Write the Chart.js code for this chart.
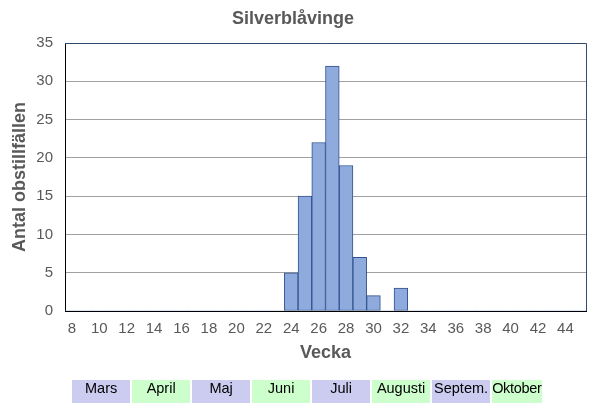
<!DOCTYPE html>
<html>
<head>
<meta charset="utf-8">
<script src="https://cdn.jsdelivr.net/npm/chart.js@4"></script>
<style>
  body { margin: 0; background: #fff; }
  #wrap { position: relative; width: 610px; height: 409px; }
  #months { position: absolute; left: 72px; top: 380px; display: flex; gap: 1.7px; }
  #months div { width: 58.3px; height: 23px; line-height: 24px; text-align: center;
    font: 14.5px "Liberation Sans", Arial, sans-serif; color: #000; white-space: nowrap; }
  #months div:last-child { width: 50px; letter-spacing: -0.3px; }
</style>
</head>
<body>
<div id="wrap">
  <canvas id="myChart" width="610" height="409"></canvas>
  <div id="months"></div>
</div>
<script>
// weeks 8..45
const weeks = [8, 9, 10, 11, 12, 13, 14, 15, 16, 17, 18, 19, 20, 21, 22, 23, 24, 25, 26,
  27, 28, 29, 30, 31, 32, 33, 34, 35, 36, 37, 38, 39, 40, 41, 42, 43, 44, 45];
const counts = [0, 0, 0, 0, 0, 0, 0, 0, 0, 0, 0, 0, 0, 0, 0, 0, 5, 15, 22,
  32, 19, 7, 2, 0, 3, 0, 0, 0, 0, 0, 0, 0, 0, 0, 0, 0, 0, 0];
const months = ['Mars', 'April', 'Maj', 'Juni', 'Juli', 'Augusti', 'Septem.', 'Oktober'];
const monthColors = ['#ccccf0', '#ccffcc'];

const monthRow = document.getElementById('months');
months.forEach((m, i) => {
  const d = document.createElement('div');
  d.textContent = m;
  d.style.background = monthColors[i % 2];
  monthRow.appendChild(d);
});

const font = '"Liberation Sans", Arial, sans-serif';
const grey = '#595959';

// top + right frame of the plot
const frame = {
  id: 'frame',
  afterDatasetsDraw(chart) {
    const { ctx, chartArea: a } = chart;
    ctx.save();
    ctx.strokeStyle = '#2f4b6e';
    ctx.lineWidth = 1;
    ctx.beginPath();
    ctx.moveTo(a.left, a.top + 0.5);
    ctx.lineTo(a.right + 0.5, a.top + 0.5);
    ctx.lineTo(a.right + 0.5, a.bottom);
    ctx.stroke();
    ctx.restore();
  },
};

const ctx = document.getElementById('myChart').getContext('2d');
// eslint-disable-next-line no-undef, no-unused-vars
const chart = new Chart(ctx, {
  type: 'bar',
  data: {
    labels: weeks,
    datasets: [
      {
        data: counts,
        backgroundColor: '#8faadc',
        borderColor: '#2f528f',
        borderWidth: (c) => (c.raw ? 1 : 0),
        borderSkipped: false,
        barPercentage: 1,
        categoryPercentage: 1,
      },
    ],
  },
  options: {
    responsive: false,
    animation: false,
    layout: { padding: { left: 0, right: 24, top: 0, bottom: 0 } },
    plugins: {
      legend: { display: false },
      tooltip: { enabled: false },
      title: {
        display: true,
        text: 'Silverblåvinge',
        color: grey,
        font: { family: font, size: 18, weight: 'bold' },
        padding: { top: 8, bottom: 13.4 },
      },
    },
    scales: {
      x: {
        grid: { display: false, drawTicks: false },
        border: { color: '#000' },
        ticks: {
          autoSkip: false,
          maxRotation: 0,
          padding: 9,
          color: grey,
          font: { family: font, size: 15 },
          callback(v) {
            const w = this.getLabelForValue(v);
            return w % 2 === 0 ? w : '';
          },
        },
        title: {
          display: true,
          text: 'Vecka',
          color: grey,
          font: { family: font, size: 18, weight: 'bold' },
          padding: { top: 0, bottom: 45 },
        },
        afterFit(s) { s.height = 98; },
      },
      y: {
        min: 0,
        max: 35,
        grid: { color: '#a0a0a0', drawTicks: false },
        border: { color: '#000' },
        ticks: {
          stepSize: 5,
          padding: 12,
          color: grey,
          font: { family: font, size: 15 },
        },
        title: {
          display: true,
          text: 'Antal obstillfällen',
          color: grey,
          font: { family: font, size: 18, weight: 'bold' },
          padding: { top: 9, bottom: 0 },
        },
        afterFit(s) { s.width = 65; },
      },
    },
  },
  plugins: [frame],
});
</script>
</body>
</html>
